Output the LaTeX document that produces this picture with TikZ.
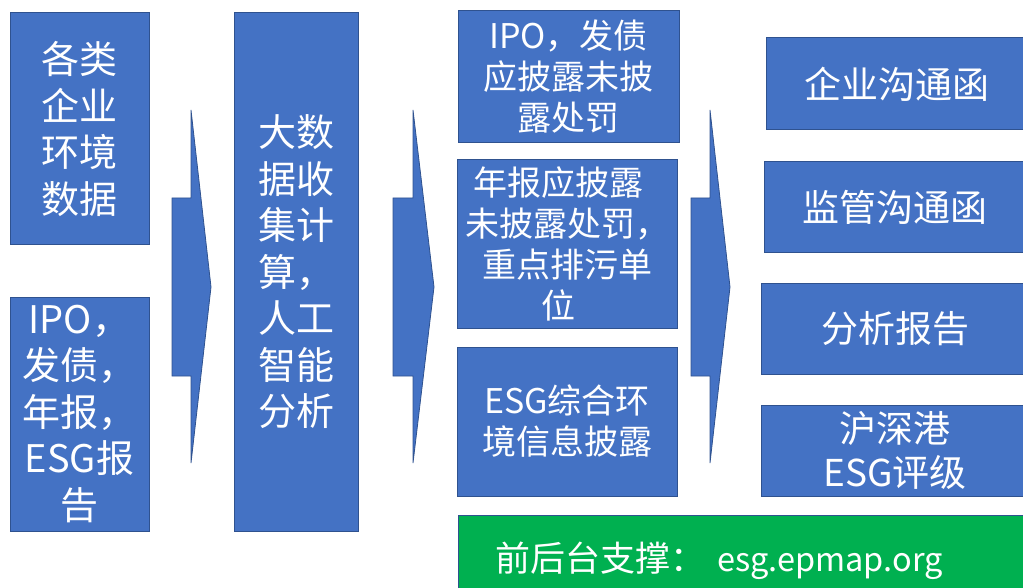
\documentclass[tikz,border=0pt]{standalone}
\usepackage{fontspec}
\setmainfont{Noto Sans CJK SC}
\definecolor{boxblue}{HTML}{4472C4}
\definecolor{edgeblue}{HTML}{2F528F}
\definecolor{supgreen}{HTML}{00B050}
\begin{document}
\begin{tikzpicture}[x=1pt,y=-1pt,
  box/.style={draw=edgeblue, fill=boxblue, text=white, align=center, inner sep=0pt, line width=1pt},
  big/.style={font=\fontsize{38}{46.5}\selectfont},
  mid/.style={font=\fontsize{34}{41}\selectfont},
  rbox/.style={box, font=\fontsize{37}{44}\selectfont},
  blockarrow/.style={draw=edgeblue, fill=boxblue, line width=0.8pt, line join=miter}]
\useasboundingbox (0,0) rectangle (1023,588);
\clip (0,0) rectangle (1023,588);
% column 1
\node[box,big,minimum width=139pt,minimum height=232pt] (data) at (79.5,129) {各类\\企业\\环境\\数据};
\node[box,big,minimum width=139pt,minimum height=234pt] (reports) at (79.5,414) {IPO，\\发债，\\年报，\\ESG报\\告};
% column 2
\node[box,big,minimum width=124pt,minimum height=518pt] (ai) at (296,272) {大数\\据收\\集计\\算，\\人工\\智能\\分析};
% column 3
\node[box,mid,minimum width=221pt,minimum height=132pt] (ipo) at (568.5,77) {IPO，发债\\应披露未披\\露处罚};
\node[box,mid,minimum width=220pt,minimum height=168pt] (annual) at (567,244) {年报应披露\hspace*{18pt}\\未披露处罚，\\重点排污单\hspace*{18pt}\\位\hspace*{18pt}};
\node[box,mid,minimum width=220pt,minimum height=149pt] (esg) at (567,421.5) {ESG综合环\\境信息披露};
% column 4
\node[rbox,minimum width=262pt,minimum height=92pt] (corp) at (897,84) {企业沟通函};
\node[rbox,minimum width=262pt,minimum height=91pt] (reg) at (895,207.5) {监管沟通函};
\node[rbox,minimum width=268pt,minimum height=91pt] (analysis) at (895,328.5) {分析报告};
\node[rbox,minimum width=268pt,minimum height=91pt] (rating) at (895,450.5) {沪深港\\ESG评级};
% support bar
\node[draw=edgeblue, fill=supgreen, text=white, line width=1pt, anchor=north west,
      minimum width=590pt, minimum height=90pt, text width=550pt, align=left,
      inner xsep=37pt, inner ysep=0pt, font=\fontsize{35}{42}\selectfont] (support) at (458,515)
      {前后台支撑：\ {\fontsize{32.5}{40}\selectfont esg.epmap.org}};
% block arrows
\path[blockarrow] (172,198) -- (191,198) -- (191,110) -- (211,287) -- (191,463) -- (191,376) -- (172,376) -- cycle;
\path[blockarrow] (393,198) -- (413,198) -- (413,110) -- (434,287) -- (413,463) -- (413,376) -- (393,376) -- cycle;
\path[blockarrow] (691,198) -- (710,198) -- (710,110) -- (730,287) -- (710,463) -- (710,376) -- (691,376) -- cycle;
\end{tikzpicture}
\end{document}
